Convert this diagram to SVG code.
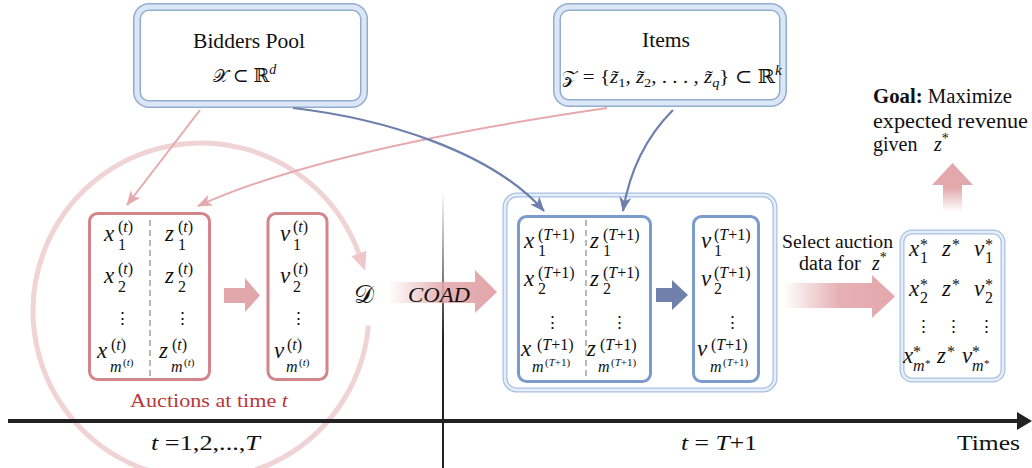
<svg xmlns="http://www.w3.org/2000/svg" width="1032" height="468" viewBox="0 0 1032 468">
<defs>
<style>
.t{font-family:"Liberation Serif","DejaVu Serif",serif;fill:#111}
.mi{font-family:"Liberation Serif","DejaVu Serif",serif;font-style:italic;font-size:23px;fill:#111}
.sp{font-size:16px;font-style:normal}
.ss{font-size:11px;font-style:normal}
.it{font-style:italic}
.dots{font-family:"DejaVu Serif",serif;font-size:17px;fill:#111;text-anchor:middle}
.bOut{fill:#fff;stroke:#93acd0;stroke-width:8}
.bIn{fill:none;stroke:#dbe7f6;stroke-width:5}
.tOut{fill:#fff;stroke:#a9c1e0;stroke-width:5}
.tIn{fill:none;stroke:#e6eff9;stroke-width:2.5}
.pbox{fill:#fff;stroke:#d2858b;stroke-width:3}
.bbox{fill:#fff;stroke:#7b9bcd;stroke-width:3}
.dash{stroke:#b8b8b8;stroke-width:2;stroke-dasharray:6 4}
.pl{fill:none;stroke:#e6a9ad;stroke-width:2}
.bl{fill:none;stroke:#6e7fac;stroke-width:2.2}
</style>
<marker id="mp" markerUnits="userSpaceOnUse" markerWidth="16" markerHeight="14" refX="14" refY="6" orient="auto">
<path d="M0,0 L15,6 L0,12 L4,6 z" fill="#e6a9ad"/>
</marker>
<marker id="mb" markerUnits="userSpaceOnUse" markerWidth="16" markerHeight="14" refX="14" refY="6" orient="auto">
<path d="M0,0 L15,6 L0,12 L4,6 z" fill="#6e7fac"/>
</marker>
<linearGradient id="gCoad" x1="388" y1="0" x2="497" y2="0" gradientUnits="userSpaceOnUse">
<stop offset="0" stop-color="#e2a6aa" stop-opacity="0"/>
<stop offset="0.5" stop-color="#e2a6aa" stop-opacity="0.85"/>
<stop offset="1" stop-color="#e2a6aa"/>
</linearGradient>
<linearGradient id="gSel" x1="783" y1="0" x2="895" y2="0" gradientUnits="userSpaceOnUse">
<stop offset="0" stop-color="#e3a8ac" stop-opacity="0"/>
<stop offset="0.5" stop-color="#e3a8ac" stop-opacity="0.9"/>
<stop offset="1" stop-color="#e3a8ac"/>
</linearGradient>
<linearGradient id="gUp" x1="0" y1="212" x2="0" y2="163" gradientUnits="userSpaceOnUse">
<stop offset="0" stop-color="#e3a8ac" stop-opacity="0"/>
<stop offset="0.5" stop-color="#e3a8ac"/>
<stop offset="1" stop-color="#e3a8ac"/>
</linearGradient>
<linearGradient id="gV" x1="0" y1="190" x2="0" y2="340" gradientUnits="userSpaceOnUse">
<stop offset="0" stop-color="#222" stop-opacity="0"/>
<stop offset="1" stop-color="#222"/>
</linearGradient>
</defs>

<g id="history-cycle">
<path d="M 368.4 325.6 A 168 168 0 1 1 358.9 253.5" fill="none" stroke="#f0d3d5" stroke-width="5"/>
<polygon points="366.4,250.8 351.4,256.2 365.1,270.4" fill="#edc7ca"/>
</g>

<g id="axis">
<line x1="443" y1="190" x2="443" y2="468" stroke="url(#gV)" stroke-width="2"/>
<line x1="8" y1="421" x2="1020" y2="421" stroke="#222" stroke-width="4"/>
<polygon points="1017,412 1032,421 1017,430" fill="#222"/>
<text class="t" x="151" y="450" font-size="21" textLength="109" lengthAdjust="spacingAndGlyphs"><tspan class="it">t</tspan> =1,2,...,<tspan class="it">T</tspan></text>
<text class="t" x="681" y="450" font-size="21" textLength="76" lengthAdjust="spacingAndGlyphs"><tspan class="it">t</tspan> = <tspan class="it">T</tspan>+1</text>
<text class="t" x="957" y="450" font-size="21" textLength="63" lengthAdjust="spacingAndGlyphs">Times</text>
</g>

<g id="bidders-pool">
<rect class="bOut" x="137" y="7" width="227" height="97" rx="12"/>
<rect class="bIn" x="137" y="7" width="227" height="97" rx="12"/>
<text class="t" x="193" y="48" font-size="20" textLength="112" lengthAdjust="spacingAndGlyphs">Bidders Pool</text>
<text class="t" x="213" y="82" font-size="19"><tspan font-family="DejaVu Serif" font-size="18">𝒳</tspan> ⊂ ℝ<tspan class="it" font-size="14" dy="-8">d</tspan></text>
</g>

<g id="items">
<rect class="bOut" x="557" y="7" width="226" height="96" rx="12"/>
<rect class="bIn" x="557" y="7" width="226" height="96" rx="12"/>
<text class="t" x="642" y="47" font-size="20" textLength="48" lengthAdjust="spacingAndGlyphs">Items</text>
<text class="t" x="562" y="83" font-size="19" textLength="220" lengthAdjust="spacingAndGlyphs"><tspan font-family="DejaVu Serif" font-size="18">𝒵</tspan> = {<tspan class="it">z̃</tspan><tspan font-size="13" dy="4">1</tspan><tspan dy="-4">, </tspan><tspan class="it">z̃</tspan><tspan font-size="13" dy="4">2</tspan><tspan dy="-4">, . . . , </tspan><tspan class="it">z̃</tspan><tspan class="it" font-size="13" dy="4">q</tspan><tspan dy="-4">} ⊂ ℝ</tspan><tspan class="it" font-size="14" dy="-8">k</tspan></text>
</g>

<g id="auction-history">
<rect class="pbox" x="89.5" y="213.5" width="120" height="166" rx="8"/>
<line class="dash" x1="150" y1="220" x2="150" y2="377"/>
<text class="mi" x="104" y="241">x<tspan class="sp" x="118" y="232">(<tspan class="it">t</tspan>)</tspan><tspan class="sp" x="118" y="250">1</tspan></text>
<text class="mi" x="165" y="241">z<tspan class="sp" x="178" y="232">(<tspan class="it">t</tspan>)</tspan><tspan class="sp" x="178" y="250">1</tspan></text>
<text class="mi" x="104" y="283">x<tspan class="sp" x="118" y="274">(<tspan class="it">t</tspan>)</tspan><tspan class="sp" x="118" y="292">2</tspan></text>
<text class="mi" x="165" y="283">z<tspan class="sp" x="178" y="274">(<tspan class="it">t</tspan>)</tspan><tspan class="sp" x="178" y="292">2</tspan></text>
<text class="dots" x="122" y="324">⋮</text><text class="dots" x="182" y="324">⋮</text>
<text class="mi" x="97" y="358">x<tspan class="sp" x="111" y="350">(<tspan class="it">t</tspan>)</tspan><tspan class="sp it" x="110" y="372">m</tspan><tspan class="ss" x="123" y="366">(<tspan class="it">t</tspan>)</tspan></text>
<text class="mi" x="159" y="358">z<tspan class="sp" x="172" y="350">(<tspan class="it">t</tspan>)</tspan><tspan class="sp it" x="171" y="372">m</tspan><tspan class="ss" x="184" y="366">(<tspan class="it">t</tspan>)</tspan></text>
</g>

<g id="values-history">
<rect class="pbox" x="268" y="213.5" width="59" height="166" rx="8"/>
<text class="mi" x="280" y="241">v<tspan class="sp" x="293" y="232">(<tspan class="it">t</tspan>)</tspan><tspan class="sp" x="293" y="250">1</tspan></text>
<text class="mi" x="280" y="283">v<tspan class="sp" x="293" y="274">(<tspan class="it">t</tspan>)</tspan><tspan class="sp" x="293" y="292">2</tspan></text>
<text class="dots" x="298" y="324">⋮</text>
<text class="mi" x="274" y="358">v<tspan class="sp" x="287" y="350">(<tspan class="it">t</tspan>)</tspan><tspan class="sp it" x="286" y="372">m</tspan><tspan class="ss" x="299" y="366">(<tspan class="it">t</tspan>)</tspan></text>
</g>

<g id="label-auctions">
<text class="t" x="130" y="407" font-size="19" textLength="158" lengthAdjust="spacingAndGlyphs" style="fill:#b83838">Auctions at time <tspan class="it">t</tspan></text>
</g>

<g id="dataset-D">
<text class="t" x="354" y="303" font-size="25" font-family="DejaVu Serif">𝒟</text>
</g>

<g id="new-round">
<rect class="tOut" x="505" y="195" width="270" height="195" rx="12"/>
<rect class="tIn" x="505" y="195" width="270" height="195" rx="12"/>
<rect class="bbox" x="518.5" y="216.5" width="132" height="165" rx="8"/>
<rect class="bbox" x="693.5" y="216.5" width="65" height="165" rx="8"/>
<line class="dash" x1="586" y1="220" x2="586" y2="380"/>
<text class="mi" x="524" y="248">x<tspan class="sp" x="538" y="240">(<tspan class="it">T</tspan>+1)</tspan><tspan class="sp" x="538" y="256">1</tspan></text>
<text class="mi" x="590" y="248">z<tspan class="sp" x="603" y="240">(<tspan class="it">T</tspan>+1)</tspan><tspan class="sp" x="603" y="256">1</tspan></text>
<text class="mi" x="701" y="248">v<tspan class="sp" x="714" y="240">(<tspan class="it">T</tspan>+1)</tspan><tspan class="sp" x="714" y="256">1</tspan></text>
<text class="mi" x="524" y="286">x<tspan class="sp" x="538" y="278">(<tspan class="it">T</tspan>+1)</tspan><tspan class="sp" x="538" y="294">2</tspan></text>
<text class="mi" x="590" y="286">z<tspan class="sp" x="603" y="278">(<tspan class="it">T</tspan>+1)</tspan><tspan class="sp" x="603" y="294">2</tspan></text>
<text class="mi" x="701" y="286">v<tspan class="sp" x="714" y="278">(<tspan class="it">T</tspan>+1)</tspan><tspan class="sp" x="714" y="294">2</tspan></text>
<text class="dots" x="552" y="328">⋮</text><text class="dots" x="619" y="328">⋮</text><text class="dots" x="732" y="328">⋮</text>
<text class="mi" x="521" y="356">x<tspan class="sp" x="537" y="350">(<tspan class="it">T</tspan>+1)</tspan><tspan class="sp it" x="532" y="372">m</tspan><tspan class="ss" x="545" y="366">(<tspan class="it">T</tspan>+1)</tspan></text>
<text class="mi" x="587" y="356">z<tspan class="sp" x="600" y="350">(<tspan class="it">T</tspan>+1)</tspan><tspan class="sp it" x="598" y="372">m</tspan><tspan class="ss" x="611" y="366">(<tspan class="it">T</tspan>+1)</tspan></text>
<text class="mi" x="697" y="356">v<tspan class="sp" x="711" y="350">(<tspan class="it">T</tspan>+1)</tspan><tspan class="sp it" x="710" y="372">m</tspan><tspan class="ss" x="723" y="366">(<tspan class="it">T</tspan>+1)</tspan></text>
</g>

<g id="select-label">
<text class="t" x="782" y="248" font-size="18" textLength="111" lengthAdjust="spacingAndGlyphs">Select auction</text>
<text class="t" x="799" y="270" font-size="20">data for <tspan class="it" x="872">z</tspan><tspan font-size="14" dy="-8">*</tspan></text>
</g>

<g id="selected-data">
<rect class="tOut" x="902" y="232" width="101" height="148" rx="10"/>
<rect class="tIn" x="902" y="232" width="101" height="148" rx="10"/>
<text class="mi" x="909" y="256" font-size="22">x<tspan class="sp" x="920" y="250">*</tspan><tspan class="sp" x="920" y="263">1</tspan></text>
<text class="mi" x="942" y="256" font-size="22">z<tspan class="sp" x="952" y="250">*</tspan></text>
<text class="mi" x="974" y="256" font-size="22">v<tspan class="sp" x="985" y="250">*</tspan><tspan class="sp" x="985" y="263">1</tspan></text>
<text class="mi" x="909" y="296" font-size="22">x<tspan class="sp" x="920" y="290">*</tspan><tspan class="sp" x="920" y="303">2</tspan></text>
<text class="mi" x="942" y="296" font-size="22">z<tspan class="sp" x="952" y="290">*</tspan></text>
<text class="mi" x="974" y="296" font-size="22">v<tspan class="sp" x="985" y="290">*</tspan><tspan class="sp" x="985" y="303">2</tspan></text>
<text class="dots" x="923" y="332">⋮</text><text class="dots" x="953" y="332">⋮</text><text class="dots" x="986" y="332">⋮</text>
<text class="mi" x="903" y="363" font-size="22">x<tspan class="sp" x="913" y="357">*</tspan><tspan class="sp it" x="913" y="371">m</tspan><tspan class="ss" x="925" y="367">*</tspan></text>
<text class="mi" x="937" y="363" font-size="22">z<tspan class="sp" x="947" y="357">*</tspan></text>
<text class="mi" x="962" y="363" font-size="22">v<tspan class="sp" x="972" y="357">*</tspan><tspan class="sp it" x="972" y="371">m</tspan><tspan class="ss" x="984" y="367">*</tspan></text>
</g>

<g id="goal">
<text class="t" x="873" y="103" font-size="20" textLength="139" lengthAdjust="spacingAndGlyphs"><tspan font-weight="bold">Goal:</tspan> Maximize</text>
<text class="t" x="873" y="128" font-size="20" textLength="155" lengthAdjust="spacingAndGlyphs">expected revenue</text>
<text class="t" x="873" y="151" font-size="20">given <tspan class="it" x="934">z</tspan><tspan font-size="14" dy="-8">*</tspan></text>
</g>

<g id="connectors">
<path class="pl" d="M 200 110 L 127 205" marker-end="url(#mp)"/>
<path class="pl" d="M 607 108 Q 320 150 198 206" marker-end="url(#mp)"/>
<path class="bl" d="M 293 108 C 380 118 490 150 544 211" marker-end="url(#mb)"/>
<path class="bl" d="M 673 110 Q 633 150 623 211" marker-end="url(#mb)"/>
<polygon points="224,288 245,288 245,278 260,295.5 245,312 245,303 224,303" fill="#e2a7ab"/>
<polygon points="656,288 672,288 672,280 688,295 672,310 672,302 656,302" fill="#6f80ac"/>
<polygon points="388,282 475,282 475,270 497,292 475,313 475,303 388,303" fill="url(#gCoad)"/>
<polygon points="783,283 872,283 872,275 895,296.5 872,318 872,308 783,308" fill="url(#gSel)"/>
<polygon points="943,212 943,185 932,185 952.5,163 973,185 962,185 962,212" fill="url(#gUp)"/>
</g>

<g id="coad-label">
<text class="t it" x="408" y="302" font-size="22" textLength="62" lengthAdjust="spacingAndGlyphs">COAD</text>
</g>
</svg>
